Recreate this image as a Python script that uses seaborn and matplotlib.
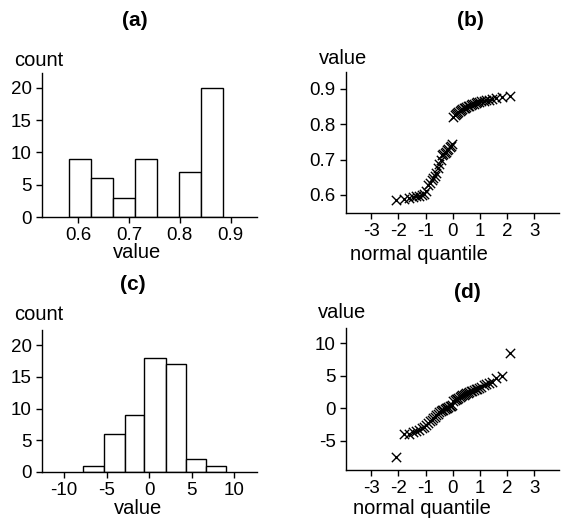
import warnings; warnings.filterwarnings('ignore')
from statistics import NormalDist
import numpy as np, pandas as pd
import matplotlib
matplotlib.use('Agg')
import matplotlib.pyplot as plt
import seaborn as sns

# ---- data ----
# (a) histogram of the bimodal sample
edges_a  = [0.582, 0.625, 0.668, 0.711, 0.755, 0.798, 0.842, 0.885]
counts_a = [9, 6, 3, 9, 0, 7, 20]
# (b) sorted sample values (n = 54)
values_b = [0.585, 0.590, 0.592, 0.595, 0.597, 0.598, 0.600, 0.603, 0.610,
            0.628, 0.635, 0.642, 0.648, 0.655, 0.662,
            0.675, 0.688, 0.700,
            0.713, 0.716, 0.720, 0.722, 0.726, 0.730, 0.735, 0.740, 0.745,
            0.822, 0.826, 0.830, 0.832, 0.835, 0.837, 0.840,
            0.843, 0.845, 0.847, 0.849, 0.851, 0.853, 0.855, 0.857, 0.858, 0.860,
            0.862, 0.863, 0.865, 0.866, 0.868, 0.870, 0.872, 0.874, 0.877, 0.880]
# (c) histogram of the roughly normal sample
edges_c  = [-7.76, -5.29, -2.90, -0.59, 1.92, 4.27, 6.63, 8.98]
counts_c = [1, 6, 9, 18, 17, 2, 1]
# (d) sorted sample values (n = 54)
values_d = [-7.4,
            -4.0, -3.9, -3.7, -3.5, -3.3, -3.0,
            -2.8, -2.5, -2.2, -2.0, -1.8, -1.5, -1.3, -1.0, -0.8,
            -0.5, -0.4, -0.3, -0.2, -0.1, 0.0, 0.1, 0.2, 0.3, 0.4, 0.5,
            1.1, 1.3, 1.4, 1.5, 1.6, 1.7, 1.85,
            2.0, 2.1, 2.2, 2.3, 2.4, 2.5, 2.6, 2.7, 2.8, 2.9, 3.0, 3.1, 3.3, 3.5, 3.7, 3.9, 4.1,
            4.6, 4.9,
            8.45]

def normal_scores(vals):
    n = len(vals)
    return [NormalDist().inv_cdf(i / (n + 1)) for i in range(1, n + 1)]

sns.set_style('ticks')
plt.rcParams['font.family'] = ['Liberation Sans', 'DejaVu Sans']
plt.rcParams.update({'axes.linewidth': 1.0, 'xtick.major.width': 1.0, 'ytick.major.width': 1.0,
                     'xtick.major.size': 4, 'ytick.major.size': 4,
                     'xtick.labelsize': 13.5, 'ytick.labelsize': 13.5,
                     'axes.unicode_minus': False, 'text.color': 'black',
                     'xtick.color': 'black', 'ytick.color': 'black', 'axes.edgecolor': 'black'})

W, H = 564, 521
fig = plt.figure(figsize=(W/100, H/100), dpi=100)

def box(l, t, r, b):
    return fig.add_axes([l/W, 1-b/H, (r-l)/W, (b-t)/H])

def label(x, y, s, **kw):
    fig.text(x/W, 1-y/H, s, ha='center', va='center', fontsize=kw.pop('fontsize', 14.5),
             color='black', **kw)

def hist(ax, edges, counts):
    centers = [(a+b)/2 for a, b in zip(edges[:-1], edges[1:])]
    df = pd.DataFrame({'x': centers, 'n': counts})
    sns.histplot(data=df, x='x', weights='n', bins=edges, ax=ax, color='white',
                 edgecolor='black', linewidth=1.0, alpha=1)
    ax.set_xlabel(''); ax.set_ylabel('')
    ax.set_yticks([0, 5, 10, 15, 20])

def qq(ax, vals):
    df = pd.DataFrame({'q': normal_scores(vals), 'v': vals})
    sns.scatterplot(data=df, x='q', y='v', ax=ax, marker='x', color='black', s=45, linewidth=1.0)
    ax.set_xlabel(''); ax.set_ylabel('')
    ax.set_xticks([-3, -2, -1, 0, 1, 2, 3])

# (a)
ax = box(42, 73, 257, 217)
hist(ax, edges_a, counts_a)
ax.set_xlim(0.529, 0.952); ax.set_ylim(0, 22.3)
ax.set_xticks([0.6, 0.7, 0.8, 0.9])
sns.despine(ax=ax)

# (b)
ax = box(346, 72, 559, 213)
qq(ax, values_b)
ax.set_xlim(-3.93, 3.91); ax.set_ylim(0.549, 0.948)
ax.set_yticks([0.6, 0.7, 0.8, 0.9])
sns.despine(ax=ax)

# (c)
ax = box(42, 330, 257, 472)
hist(ax, edges_c, counts_c)
ax.set_xlim(-12.6, 12.67); ax.set_ylim(0, 22.4)
ax.set_xticks([-10, -5, 0, 5, 10])
sns.despine(ax=ax)

# (d)
ax = box(346, 328, 559, 470)
qq(ax, values_d)
ax.set_xlim(-3.93, 3.91); ax.set_ylim(-9.45, 12.3)
ax.set_yticks([-5, 0, 5, 10])
sns.despine(ax=ax)

# panel titles and axis labels
for x, y, s in [(135, 20, '(a)'), (470, 20, '(b)'), (133, 285, '(c)'), (467, 293, '(d)')]:
    label(x, y, s, fontsize=15, fontweight='bold')
for x, y, s in [(39, 60, 'count'), (137, 253, 'value'), (343, 58, 'value'), (419, 254, 'normal quantile'),
                (39, 315, 'count'), (138, 509, 'value'), (342, 313, 'value'), (422, 508, 'normal quantile')]:
    label(x, y, s)

fig.savefig('out.png', dpi=100)
